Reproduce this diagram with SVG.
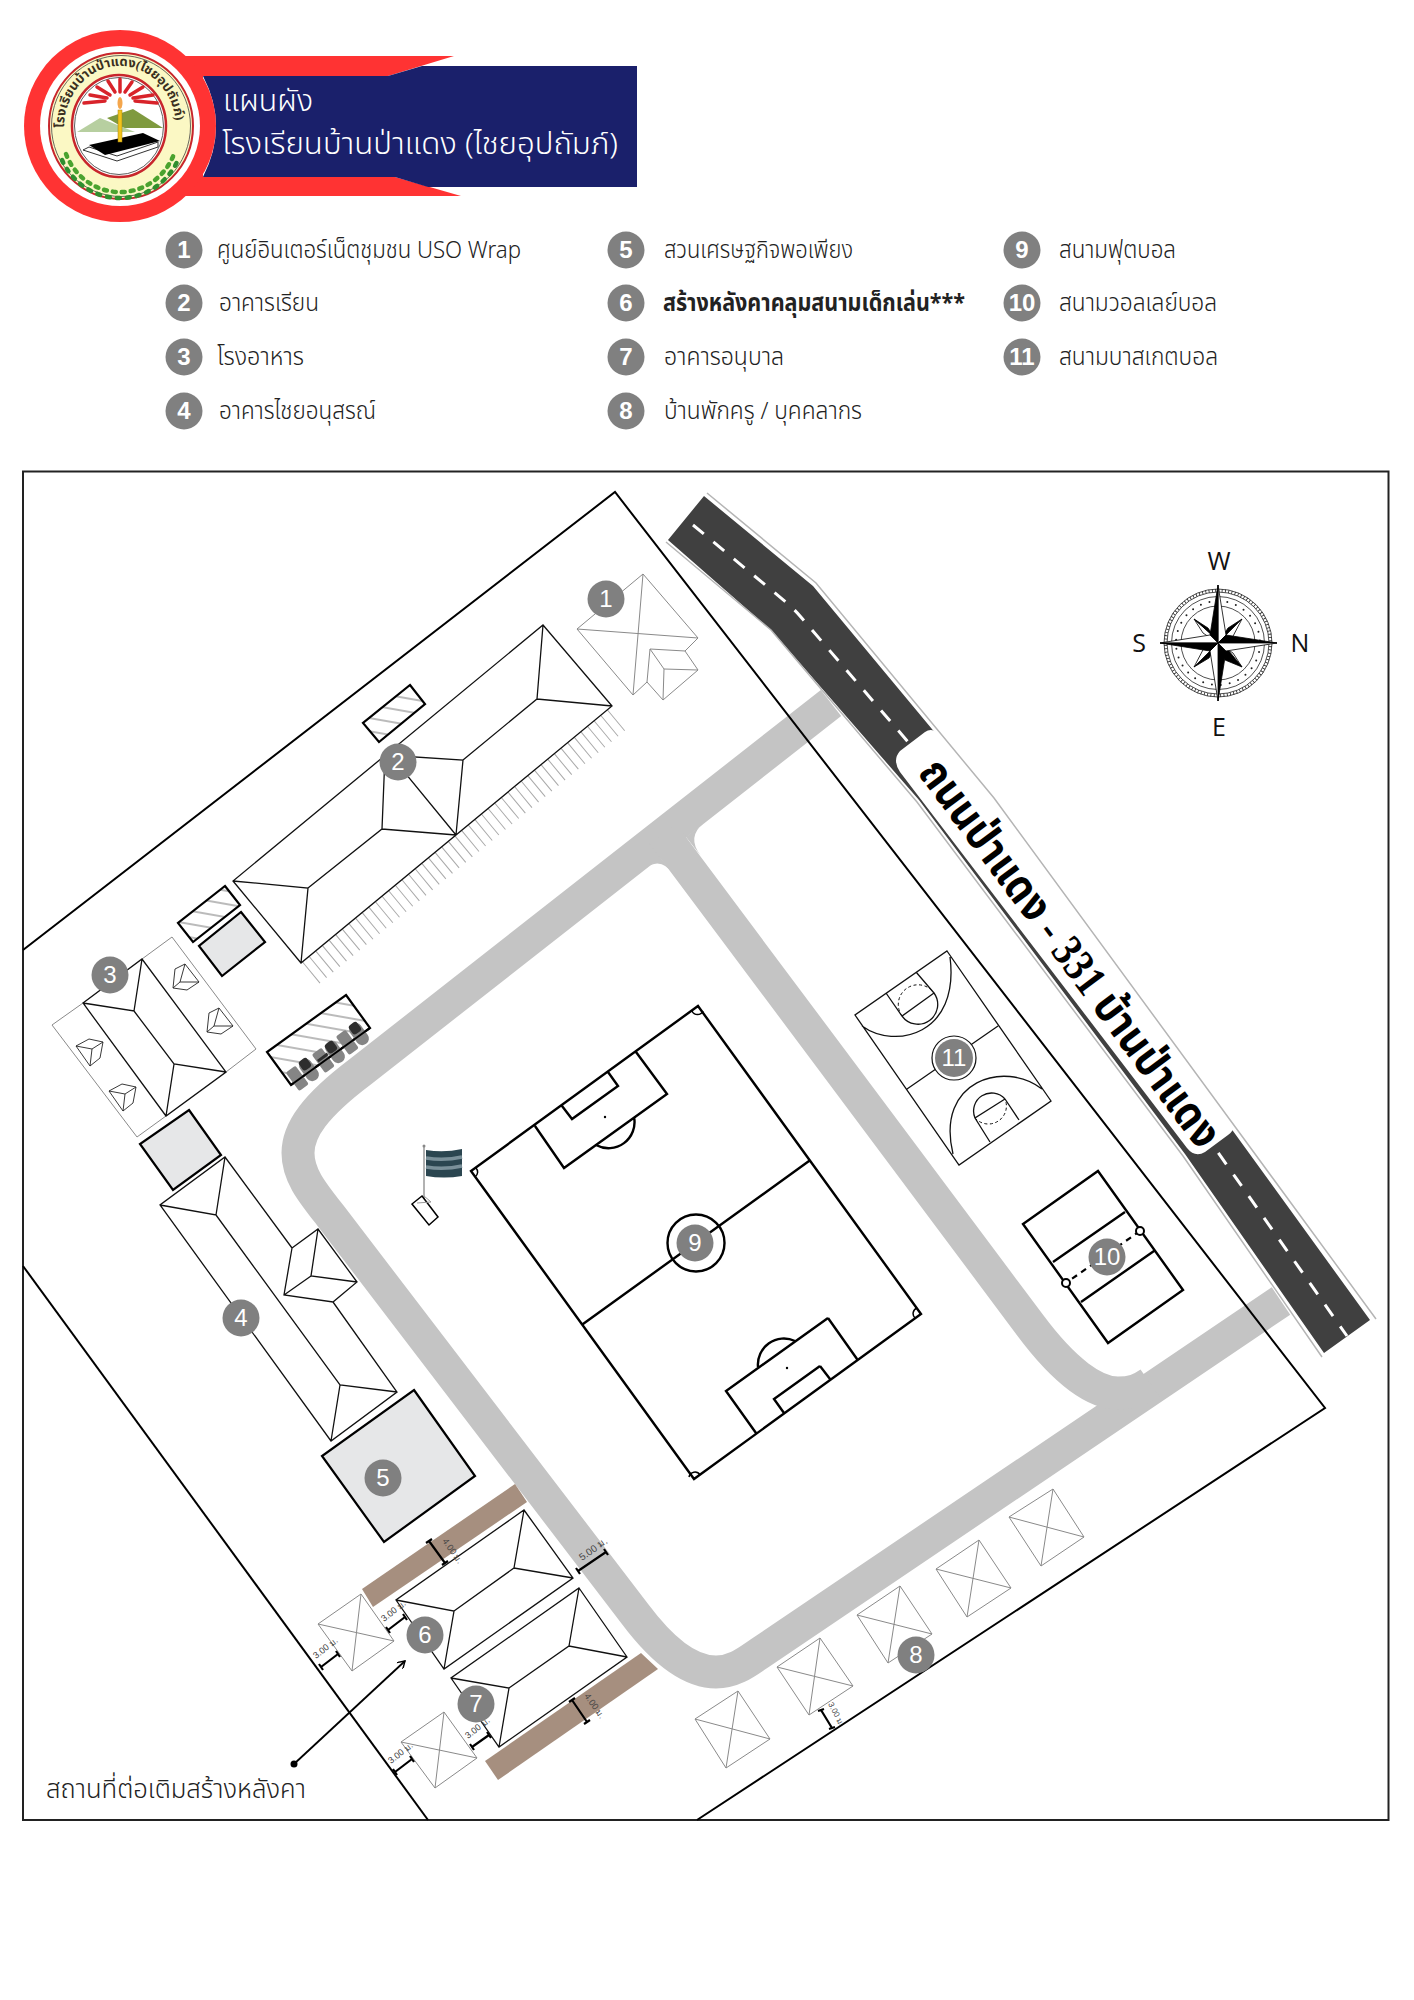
<svg xmlns="http://www.w3.org/2000/svg" width="1414" height="2000" viewBox="0 0 1414 2000">
<style>
.thin{fill:none;stroke:#8a8a8a;stroke-width:1}
.roof{fill:none;stroke:#111;stroke-width:1.3}
.sky{fill:none;stroke:#222;stroke-width:.9}
.heavy{fill:none;stroke:#000;stroke-width:2.4}
.hatch{fill:url(#h);stroke:#000;stroke-width:2.2}
.slab{fill:#e6e7e8;stroke:#000;stroke-width:2.2}
.brown{fill:#a68f7f}
.badge{fill:#808080}
.num{font-family:"Liberation Sans",Arial,sans-serif;font-size:24px;fill:#fff;text-anchor:middle}
.numL{font-family:"Liberation Sans",Arial,sans-serif;font-size:24px;font-weight:bold;fill:#fff;text-anchor:middle}
.lg{font-family:"Noto Sans Thai","Noto Sans","Liberation Sans",sans-serif;font-size:24px;font-weight:300;fill:#222}
.dim{font-family:"Liberation Sans",sans-serif;font-size:9px;fill:#444}
.dl{stroke:#000;stroke-width:2.2;fill:none}
.cp{font-family:"Open Sans","Noto Sans",sans-serif;font-size:25px;fill:#111;text-anchor:middle}
.car{fill:#858585}
.cd{fill:#2e2e2e}
</style>
<defs>
<pattern id="h" patternUnits="userSpaceOnUse" width="13" height="13" patternTransform="rotate(10)"><rect width="13" height="13" fill="#fff"/><line x1="0" y1="6" x2="13" y2="6" stroke="#777" stroke-width="1"/></pattern>
<marker id="ah" viewBox="0 0 10 10" refX="9" refY="5" markerWidth="9" markerHeight="9" markerUnits="userSpaceOnUse" orient="auto"><path d="M1,0 L9,5 L1,10" fill="none" stroke="#000" stroke-width="1.6"/></marker>
<path id="arcT" d="M64,128 A56,62 0 0 1 176,128"/>
<path id="skyA" d="M5,-18 L19,0 L7,8 L-7,6 L-5,-13Z M0,0 L5,-18 M0,0 L19,0 M0,0 L-7,6"/>
<path id="skyB" d="M-16,-3 L-3,-10 L11,-7 L8,9 L-2,17Z M0,0 L-16,-3 M0,0 L11,-7 M0,0 L-2,17"/>
</defs>
<rect width="1414" height="2000" fill="#fff"/>

<g id="header">
<polygon points="150,56 454,56 388,76 203,76 203,177 395,177 461,196 150,196" fill="#ff3333"/>
<path d="M203,76 L388,76 L422,66 L637,66 L637,187 L428,187 L395,177 L203,177 Q229,126 203,76Z" fill="#1a206b"/>
<circle cx="120" cy="126" r="96" fill="#ff3333"/>
<circle cx="120" cy="126" r="80" fill="#fff"/>
<ellipse cx="121" cy="126" rx="72" ry="73" fill="#fbf8c4" stroke="#c8262c" stroke-width="2"/>
<ellipse cx="121" cy="126" rx="69.500" ry="70.500" fill="none" stroke="#444" stroke-width=".8"/>
<path d="M66,154 A58,60 0 0 0 174,154" fill="none" stroke="#4aa32f" stroke-width="4.500" stroke-linecap="round" stroke-dasharray="3 6"/>
<path d="M62,160 A64,66 0 0 0 178,160" fill="none" stroke="#2f8f2f" stroke-width="4.500" stroke-linecap="round" stroke-dasharray="3 7"/>
<text font-family="'Liberation Serif','Noto Sans Thai','Noto Sans',serif" font-size="13" font-weight="bold" fill="#3a2f20" textLength="178"><textPath href="#arcT">โรงเรียนบ้านป่าแดง(ไชยอุปถัมภ์)</textPath></text>
<ellipse cx="119" cy="126" rx="47" ry="51" fill="#fff" stroke="#c8262c" stroke-width="2.500"/>
<ellipse cx="119" cy="126" rx="44.500" ry="48.500" fill="none" stroke="#333" stroke-width=".8"/>
<g stroke="#d8232a" stroke-width="3.500" stroke-linecap="round">
<line x1="105" y1="101" x2="84" y2="103"/><line x1="107" y1="98" x2="90" y2="95"/><line x1="110" y1="95" x2="97" y2="87"/><line x1="115" y1="92" x2="108" y2="81"/><line x1="120" y1="92" x2="120" y2="79"/><line x1="125" y1="92" x2="132" y2="82"/><line x1="130" y1="95" x2="143" y2="87"/><line x1="133" y1="98" x2="153" y2="95"/><line x1="135" y1="101" x2="157" y2="103"/>
</g>
<polygon points="133,109 163,128 124,128 107,118" fill="#7f9a3f"/>
<polygon points="100,118 135,132 77,132" fill="#b7cfa0"/>
<polygon points="83,150 117,161 158,147 158,142 117,156 89,147" fill="#fff" stroke="#333" stroke-width="1"/>
<polygon points="143,133 160,141 105,155 89,145" fill="#000"/>
<rect x="118" y="110" width="4" height="32" fill="#f2c31b" stroke="#a08010" stroke-width=".5"/>
<ellipse cx="120" cy="103" rx="2.500" ry="6" fill="#f4a64c"/>
<text x="223" y="111" font-family="'Noto Sans Thai','Noto Sans','Liberation Sans',sans-serif" font-size="30" font-weight="300" fill="#fff" textLength="90" lengthAdjust="spacingAndGlyphs">แผนผัง</text>
<text x="222" y="154" font-family="'Noto Sans Thai','Noto Sans','Liberation Sans',sans-serif" font-size="30" font-weight="300" fill="#fff" textLength="396" lengthAdjust="spacingAndGlyphs">โรงเรียนบ้านป่าแดง (ไชยอุปถัมภ์)</text>
</g>

<g id="legend">
<g><circle class="badge" cx="184" cy="250" r="18.500"/><text class="numL" x="184" y="258">1</text><text class="lg" x="217" y="258" textLength="304" lengthAdjust="spacingAndGlyphs">ศูนย์อินเตอร์เน็ตชุมชน USO Wrap</text></g>
<g><circle class="badge" cx="184" cy="303" r="18.500"/><text class="numL" x="184" y="311">2</text><text class="lg" x="219" y="311" textLength="100" lengthAdjust="spacingAndGlyphs">อาคารเรียน</text></g>
<g><circle class="badge" cx="184" cy="357" r="18.500"/><text class="numL" x="184" y="365">3</text><text class="lg" x="217" y="365" textLength="87" lengthAdjust="spacingAndGlyphs">โรงอาหาร</text></g>
<g><circle class="badge" cx="184" cy="411" r="18.500"/><text class="numL" x="184" y="419">4</text><text class="lg" x="219" y="419" textLength="157" lengthAdjust="spacingAndGlyphs">อาคารไชยอนุสรณ์</text></g>
<g><circle class="badge" cx="626" cy="250" r="18.500"/><text class="numL" x="626" y="258">5</text><text class="lg" x="664" y="258" textLength="189" lengthAdjust="spacingAndGlyphs">สวนเศรษฐกิจพอเพียง</text></g>
<g><circle class="badge" cx="626" cy="303" r="18.500"/><text class="numL" x="626" y="311">6</text><text class="lg" style="font-weight:bold" x="663" y="311" textLength="302" lengthAdjust="spacingAndGlyphs">สร้างหลังคาคลุมสนามเด็กเล่น***</text></g>
<g><circle class="badge" cx="626" cy="357" r="18.500"/><text class="numL" x="626" y="365">7</text><text class="lg" x="664" y="365" textLength="120" lengthAdjust="spacingAndGlyphs">อาคารอนุบาล</text></g>
<g><circle class="badge" cx="626" cy="411" r="18.500"/><text class="numL" x="626" y="419">8</text><text class="lg" x="664" y="419" textLength="198" lengthAdjust="spacingAndGlyphs">บ้านพักครู / บุคคลากร</text></g>
<g><circle class="badge" cx="1022" cy="250" r="18.500"/><text class="numL" x="1022" y="258">9</text><text class="lg" x="1059" y="258" textLength="117" lengthAdjust="spacingAndGlyphs">สนามฟุตบอล</text></g>
<g><circle class="badge" cx="1022" cy="303" r="18.500"/><text class="numL" x="1022" y="311">10</text><text class="lg" x="1059" y="311" textLength="158" lengthAdjust="spacingAndGlyphs">สนามวอลเลย์บอล</text></g>
<g><circle class="badge" cx="1022" cy="357" r="18.500"/><text class="numL" x="1022" y="365">11</text><text class="lg" x="1059" y="365" textLength="159" lengthAdjust="spacingAndGlyphs">สนามบาสเกตบอล</text></g>
</g>

<rect id="frame" x="23" y="471.500" width="1365.500" height="1348.500" fill="#fff" stroke="#222" stroke-width="2"/>

<g id="roads">
<g fill="none" stroke="#c4c4c4" stroke-width="33">
<path d="M831,703 L360,1072 C315,1106 298,1130 298,1153 C298,1175 312,1192 330,1215 L635,1614 C668,1658 695,1672 716,1672 C735,1672 748,1661 760,1653 L1281,1301"/>
<path d="M663,834 L1030,1325 C1065,1372 1095,1393 1118,1393 C1132,1393 1140,1390 1150,1383"/>
</g>
<path d="M660,857 L644,870 Q660,855 674,875Z M686,837 L704,823 Q686,837 701,856Z" fill="#c4c4c4"/>
<polygon class="brown" points="515,1484 527,1502 373,1607 362,1589"/>
<polygon class="brown" points="641,1653 658,1669 498,1780 485,1761"/>
</g>

<polyline id="site" fill="none" stroke="#000" stroke-width="2" points="23,950 615,492 1325,1408 697,1820"/>
<line x1="23" y1="1266" x2="428" y2="1820" stroke="#000" stroke-width="2"/>

<g id="highway">
<polygon points="668,540 704,496 813,586 991,800 1233,1131 1370,1320 1324,1353 1185,1154 919,800 772,631" fill="#404040"/>
<path d="M693,525 L787,603 Q795,610 800,616 L945,785 L1210,1141 L1347,1336" fill="none" stroke="#fff" stroke-width="3" stroke-dasharray="14 12.500"/>
<path d="M900,772 Q892,760 900,751 L925,732 Q932,727 938,734 L980,780 L1123,973 L1232,1118 Q1238,1128 1228,1135 L1205,1152 Q1195,1158 1187,1148Z" fill="#fff"/>
<polyline points="707,493 816,583 994,798 1236,1128 1376,1319" fill="none" stroke="#b5b5b5" stroke-width="1.500"/>
<polyline points="666,542 771,630 917,802 1183,1156 1322,1357" fill="none" stroke="#b5b5b5" stroke-width="1.500"/>
<text transform="translate(917,773) rotate(53.300)" font-family="'Liberation Serif','Noto Sans Thai','Noto Sans',serif" font-weight="bold" font-size="45" fill="#000" textLength="472" lengthAdjust="spacingAndGlyphs">ถนนป่าแดง - 331 บ้านป่าแดง</text>
</g>

<g id="node-1">
<path class="thin" d="M643,574 L698,638 L685,651 L650,649 L647,682 L633,695 L577,629Z M577,629 L698,638 M643,574 L633,695 M685,651 L698,670 L663,700 L647,682 M664,669 L650,649 M664,669 L698,670 M664,669 L663,700"/>
<circle class="badge" cx="606" cy="599" r="18.500"/><text class="num" x="606" y="607">1</text>
</g>

<g id="node-2">
<path d="M311,973 L619,718" fill="none" stroke="#aaa" stroke-width="27" stroke-dasharray="1 7.600"/>
<path class="roof" d="M543,625 L612,706 L301,963 L233,881Z M233,881 L308,888 L301,963 M308,888 L382,829 L456,835 M382,829 L385,755 L463,760 L456,835 M392,757 L456,835 M463,760 L537,699 L612,706 M537,699 L543,625"/>
<polygon class="hatch" points="410,685 425,704 379,742 363,723"/>
<polygon class="hatch" points="225,886 240,905 193,942 178,923"/>
<polygon class="slab" points="241,912 265,942 222,976 199,946"/>
<circle class="badge" cx="398" cy="762" r="18.500"/><text class="num" x="398" y="770">2</text>
</g>

<g id="carport">
<polygon class="hatch" points="346,995 370,1028 291,1085 267,1052"/>
<g>
<rect class="car" x="-6" y="-11" width="12" height="23" rx="2" transform="translate(297,1078) rotate(-36)"/>
<rect class="car" x="-6.500" y="-12" width="13" height="24" rx="6" transform="translate(309,1070) rotate(-36)"/>
<rect class="cd" x="-5" y="-9" width="10" height="11" rx="3" transform="translate(307,1067) rotate(-36)"/>
<rect class="car" x="-6" y="-11" width="12" height="23" rx="2" transform="translate(323,1060) rotate(-36)"/>
<rect class="cd" x="-6" y="-2" width="12" height="3" transform="translate(323,1058) rotate(-36)"/>
<rect class="car" x="-6.500" y="-12" width="13" height="24" rx="6" transform="translate(335,1052) rotate(-36)"/>
<rect class="cd" x="-5" y="-9" width="10" height="11" rx="3" transform="translate(333,1050) rotate(-36)"/>
<rect class="car" x="-6" y="-11" width="12" height="23" rx="2" transform="translate(347,1042) rotate(-36)"/>
<rect class="car" x="-6.500" y="-12" width="13" height="24" rx="6" transform="translate(359,1034) rotate(-36)"/>
<rect class="cd" x="-5" y="-9" width="10" height="11" rx="3" transform="translate(357,1031) rotate(-36)"/>
</g>
<line x1="291" y1="1085" x2="370" y2="1028" stroke="#000" stroke-width="2"/>
</g>

<g id="node-3">
<path class="thin" d="M142,959 L172,937 L256,1049 L226,1072 M83,1003 L52,1025 L137,1137 L166,1116"/>
<path class="roof" d="M83,1003 L142,959 L226,1072 L166,1116Z M83,1003 L134,1011 L142,959 M134,1011 L174,1064 L226,1072 M174,1064 L166,1116"/>
<use href="#skyA" class="sky" transform="translate(180,982)"/>
<use href="#skyA" class="sky" transform="translate(214,1026)"/>
<use href="#skyB" class="sky" transform="translate(92,1049)"/>
<use href="#skyB" class="sky" transform="translate(125,1094)"/>
<circle class="badge" cx="110" cy="975" r="18.500"/><text class="num" x="110" y="983">3</text>
</g>

<polygon id="slab-3" class="slab" points="189,1110 221,1155 173,1190 140,1144"/>

<g id="node-4">
<path class="roof" d="M292,1248 L225,1157 L160,1205 L331,1441 L397,1392 L333,1302 M160,1205 L216,1215 L225,1157 M216,1215 L340,1385 L397,1392 M340,1385 L331,1441 M292,1248 L318,1229 L357,1282 L333,1302 L284,1295 Z M318,1229 L311,1276 L357,1282 M311,1276 L284,1295"/>
<circle class="badge" cx="241" cy="1318" r="18.500"/><text class="num" x="241" y="1326">4</text>
</g>

<g id="node-5">
<polygon class="slab" points="414,1390 475,1476 384,1542 322,1456"/>
<circle class="badge" cx="383" cy="1478" r="18.500"/><text class="num" x="383" y="1486">5</text>
</g>

<g id="node-6">
<path class="thin" d="M361,1594 L394,1641 L352,1671 L318,1624Z M318,1624 L394,1641 M361,1594 L352,1671"/>
<path class="roof" d="M524,1510 L573,1578 L444,1669 L396,1600Z M396,1600 L454,1611 L444,1669 M454,1611 L514,1568 L573,1578 M514,1568 L524,1510"/>
<circle class="badge" cx="425" cy="1635" r="18.500"/><text class="num" x="425" y="1643">6</text>
</g>

<g id="node-7">
<path class="thin" d="M444,1712 L477,1758 L435,1788 L401,1742Z M401,1742 L477,1758 M444,1712 L435,1788"/>
<path class="roof" d="M579,1588 L627,1657 L499,1747 L451,1678Z M451,1678 L509,1688 L499,1747 M509,1688 L569,1646 L627,1657 M569,1646 L579,1588"/>
<circle class="badge" cx="476" cy="1704" r="18.500"/><text class="num" x="476" y="1712">7</text>
</g>

<g id="node-8">
<path class="thin" d="M738,1691 L770,1739 L726,1768 L695,1719Z M695,1719 L770,1739 M738,1691 L726,1768"/>
<path class="thin" d="M820,1638 L853,1686 L809,1715 L777,1667Z M777,1667 L853,1686 M820,1638 L809,1715"/>
<path class="thin" d="M900,1586 L932,1634 L888,1663 L857,1615Z M857,1615 L932,1634 M900,1586 L888,1663"/>
<path class="thin" d="M979,1540 L1011,1588 L967,1617 L936,1569Z M936,1569 L1011,1588 M979,1540 L967,1617"/>
<path class="thin" d="M1053,1489 L1084,1537 L1041,1566 L1009,1517Z M1009,1517 L1084,1537 M1053,1489 L1041,1566"/>
<circle class="badge" cx="916" cy="1655" r="18.500"/><text class="num" x="916" y="1663">8</text>
</g>

<g id="node-9">
<path class="heavy" d="M698,1006 L921,1314 L694,1479 L471,1171Z M809,1161 L583,1324 M636,1052 L667,1094 L564,1168 L535,1126 M608,1072 L618,1086 L572,1119 L562,1106 M634,1117 A26,26 0 0 1 596,1145 M828,1318 L857,1359 M828,1318 L726,1391 L756,1433 M820,1366 L830,1379 M820,1366 L774,1399 L784,1413 M758,1367 A26,26 0 0 1 795,1341"/>
<path d="M476,1168 A6,6 0 0 1 475,1177 M692,1011 A6,6 0 0 0 703,1011 M915,1318 A6,6 0 0 1 917,1308 M689,1477 A6,6 0 0 1 700,1475" fill="none" stroke="#000" stroke-width="1.500"/>
<circle cx="605" cy="1117" r="1.200"/><circle cx="787" cy="1368" r="1.200"/>
<circle cx="696" cy="1243" r="28.500" fill="none" stroke="#000" stroke-width="2.400"/>
<circle class="badge" cx="695" cy="1243" r="18.500"/><text class="num" x="695" y="1251">9</text>
</g>

<g id="node-10">
<path class="heavy" d="M1098,1171 L1183,1290 L1108,1343 L1023,1224Z M1125,1212 L1053,1262 M1154,1251 L1081,1302"/>
<line x1="1140" y1="1231" x2="1066" y2="1283" stroke="#000" stroke-width="2.200" stroke-dasharray="6 5"/>
<circle cx="1140" cy="1231" r="4" fill="#fff" stroke="#000" stroke-width="2"/><circle cx="1066" cy="1283" r="4" fill="#fff" stroke="#000" stroke-width="2"/>
<circle class="badge" cx="1107" cy="1257" r="18.500"/><text class="num" x="1107" y="1265">10</text>
</g>

<g id="node-11">
<path class="roof" d="M947,951 L1051,1101 L959,1165 L855,1015Z M998,1026 L907,1089 M862,1026 C895,1050 960,1035 950,957 M1042,1089 C1005,1060 935,1080 953,1154 M916,972 L934,993 M886,993 L902,1016 L934,993 M902,1016 A19.700,19.700 0 0 0 934,993 M1019,1120 L1005,1099 M990,1142 L975,1118 L1005,1099 M975,1118 A18,18 0 0 1 1005,1099"/>
<path d="M902,1016 A19.700,19.700 0 0 1 934,993 M975,1118 A18,18 0 0 0 1005,1099" fill="none" stroke="#111" stroke-width="1" stroke-dasharray="3 2.500"/>
<circle cx="954" cy="1058" r="22" fill="#fff" stroke="#111" stroke-width="1.200"/>
<circle class="badge" cx="954" cy="1058" r="19"/><text class="num" x="954" y="1066">11</text>
</g>

<g id="flag">
<line x1="424" y1="1146" x2="424" y2="1208" stroke="#999" stroke-width="1.500"/>
<circle cx="424" cy="1146" r="1.500" fill="#888"/>
<path d="M426,1150 Q444,1153 462,1149 L462,1176 Q444,1179 426,1176Z" fill="#2b4650"/>
<path d="M426,1158 Q444,1161 462,1157 M426,1167 Q444,1170 462,1166" fill="none" stroke="#7a9099" stroke-width="3.500"/>
<polygon points="422,1196 438,1217 429,1225 412,1204" fill="#fff" stroke="#000" stroke-width="1.500"/>
<path d="M417,1203 L431,1202 L424,1196" fill="none" stroke="#999" stroke-width="1"/>
</g>

<g id="dimensions">
<path class="dl" d="M578,1571 L606,1552 M576,1568 L580,1574 M604,1549 L608,1555"/>
<text class="dim" transform="translate(582,1561) rotate(-35)" style="font-size:10px">5.00 ม.</text>
<path class="dl" d="M429,1541 L445,1563 M426,1543 L432,1539 M442,1565 L448,1561"/>
<text class="dim" transform="translate(442,1541) rotate(55)">4.00 ม.</text>
<path class="dl" d="M572,1700 L587,1722 M569,1702 L575,1698 M584,1724 L590,1720"/>
<text class="dim" transform="translate(584,1696) rotate(55)">4.00 ม.</text>
<path class="dl" d="M388,1630 L405,1617 M386,1627 L390,1633 M403,1614 L407,1620"/>
<text class="dim" transform="translate(384,1622) rotate(-38)">3.00 ม.</text>
<path class="dl" d="M321,1667 L338,1654 M319,1664 L323,1670 M336,1651 L340,1657"/>
<text class="dim" transform="translate(316,1659) rotate(-38)">3.00 ม.</text>
<path class="dl" d="M472,1747 L489,1735 M470,1744 L474,1750 M487,1732 L491,1738"/>
<text class="dim" transform="translate(468,1739) rotate(-38)">3.00 ม.</text>
<path class="dl" d="M395,1772 L412,1759 M393,1769 L397,1775 M410,1756 L414,1762"/>
<text class="dim" transform="translate(391,1764) rotate(-38)">3.00 ม.</text>
<path class="dl" d="M821,1710 L832,1728 M818,1711 L824,1709 M829,1729 L835,1727"/>
<text class="dim" transform="translate(828,1704) rotate(62)" style="font-size:8px">3.00 ม.</text>
</g>

<g id="connectors">
<line x1="294" y1="1764" x2="405" y2="1661" stroke="#000" stroke-width="1.800" marker-end="url(#ah)"/>
</g>
<circle cx="294" cy="1764" r="3.500" fill="#000"/>
<text id="note" x="46" y="1798" font-family="'Noto Sans Thai','Noto Sans','Liberation Sans',sans-serif" font-size="26" font-weight="300" fill="#222" textLength="260" lengthAdjust="spacingAndGlyphs">สถานที่ต่อเติมสร้างหลังคา</text>

<g id="compass">
<g fill="none" stroke="#222" stroke-width=".8">
<circle cx="1218" cy="643" r="54"/><circle cx="1218" cy="643" r="51"/><circle cx="1218" cy="643" r="46.500"/><circle cx="1218" cy="643" r="37"/>
<circle cx="1218" cy="643" r="52.500" stroke-width="3" stroke-dasharray=".8 2.500"/>
<circle cx="1218" cy="643" r="42" stroke-width="2" stroke-linecap="round" stroke-dasharray="0 9"/>
</g>
<g stroke="#000" stroke-width=".8" transform="translate(1,0)">
<polygon points="1241,619 1221,639 1217,643 1227,628" fill="#000"/><polygon points="1241,619 1230,640 1217,643" fill="#fff"/>
<polygon points="1241,667 1221,647 1217,643 1232,653" fill="#fff"/><polygon points="1241,667 1228,651 1217,643 1224,660" fill="#000"/>
<polygon points="1193,667 1213,647 1217,643 1208,658" fill="#000"/><polygon points="1193,667 1204,646 1217,643" fill="#fff"/>
<polygon points="1193,619 1210,634 1217,643 1202,633" fill="#fff"/><polygon points="1193,619 1207,628 1217,643 1212,636" fill="#000"/>
<polygon points="1217,585 1225,635 1217,643" fill="#fff"/><polygon points="1217,585 1209,635 1217,643" fill="#000"/>
<polygon points="1217,701 1225,651 1217,643" fill="#000"/><polygon points="1217,701 1209,651 1217,643" fill="#fff"/>
<polygon points="1159,643 1209,635 1217,643" fill="#fff"/><polygon points="1159,643 1209,651 1217,643" fill="#000"/>
<polygon points="1276,643 1225,635 1217,643" fill="#000"/><polygon points="1276,643 1225,651 1217,643" fill="#fff"/>
</g>
<text class="cp" x="1219" y="570">W</text><text class="cp" x="1139" y="652">S</text><text class="cp" x="1300" y="652">N</text><text class="cp" x="1219" y="736">E</text>
</g>
</svg>
